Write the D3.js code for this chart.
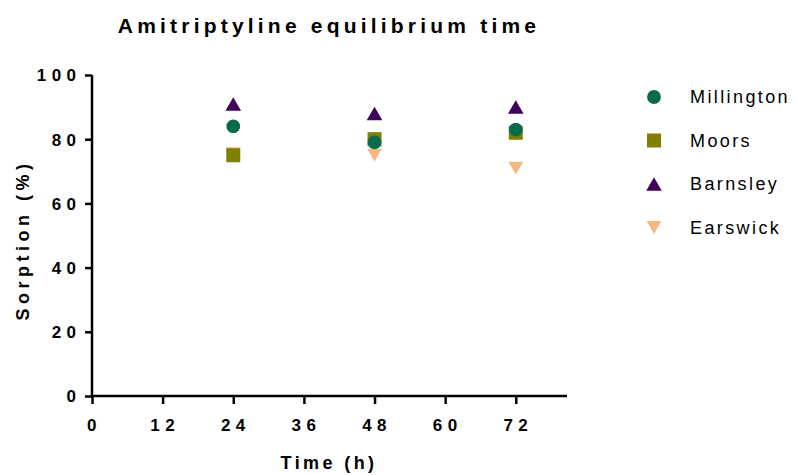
<!DOCTYPE html>
<html lang="en">
<head>
<meta charset="utf-8">
<script src="https://d3js.org/d3.v7.min.js"></script>
<style type="text/css">
  body { margin: 0; background: #fff; }
  text { font-family: "Liberation Sans", Arial, sans-serif; fill: #000; }
</style>
</head>
<body>
<script type="text/javascript">

  // chart data
  var times = [24, 48, 72];
  var seriesNames = ["Millington", "Moors", "Barnsley", "Earswick"];
  var millington = [84, 79, 83];
  var moors = [75, 80, 82];
  var barnsley = [91, 88, 90];
  var earswick = [75.5, 75, 71];
  var xTicks = [0, 12, 24, 36, 48, 60, 72];
  var yTicks = [0, 20, 40, 60, 80, 100];

  var seriesValues = [millington, moors, barnsley, earswick];
  var colors = ["#0a6b4c", "#808000", "#3f015d", "#f4b980"];
  var shapes = [d3.symbolCircle, d3.symbolSquare, d3.symbolTriangle, d3.symbolTriangle];
  var sizes = [150, 196, 105, 95];
  var rotations = [0, 0, 0, 180];

  var width = 795, height = 475;

  var x = d3.scaleLinear().domain([0, 80.7]).range([92, 567]);
  var y = d3.scaleLinear().domain([0, 100]).range([396, 75]);

  // offset so triangles sit centred on their bounding box, not their centroid
  function symOffset(i) {
    if (shapes[i] !== d3.symbolTriangle) return 0;
    var t = Math.sqrt(sizes[i] / (Math.sqrt(3) * 3));
    return rotations[i] ? -t / 2 : t / 2;
  }

  var svg = d3.select("body").append("svg")
    .attr("width", width)
    .attr("height", height);

  // title
  svg.append("text")
    .attr("x", 329).attr("y", 33)
    .attr("text-anchor", "middle")
    .style("font-size", "21px")
    .style("font-weight", "bold")
    .style("letter-spacing", "4.2px")
    .text("Amitriptyline equilibrium time");

  // axes
  var tickSpace = 5.4;
  var xAxis = svg.append("g")
    .attr("transform", "translate(0," + y(0) + ")")
    .call(d3.axisBottom(x).tickValues(xTicks).tickSize(8).tickPadding(15));

  var yAxis = svg.append("g")
    .attr("transform", "translate(" + x(0) + ",0)")
    .call(d3.axisLeft(y).tickValues(yTicks).tickSize(7).tickPadding(9));

  [xAxis, yAxis].forEach(function(g) {
    g.select(".domain").attr("stroke", "#000").attr("stroke-width", 2.5);
    g.selectAll(".tick line").attr("stroke", "#000").attr("stroke-width", 2.5);
    g.selectAll(".tick text")
      .style("font-size", "17px")
      .style("font-weight", "bold")
      .style("letter-spacing", tickSpace + "px")
      .style("font-family", "'Liberation Sans', Arial, sans-serif")
      .attr("fill", "#000");
  });
  xAxis.select(".domain").attr("d", "M" + x(0) + ",0H" + x(80.7));
  yAxis.select(".domain").attr("d", "M0," + y(0) + "V" + y(100));
  yAxis.selectAll(".tick text").attr("dy", "0.35em").attr("dx", tickSpace + "px");
  xAxis.selectAll(".tick text").attr("dx", "2px");

  // axis titles
  svg.append("text")
    .attr("x", 329).attr("y", 469)
    .attr("text-anchor", "middle")
    .style("font-size", "18px")
    .style("font-weight", "bold")
    .style("letter-spacing", "3.4px")
    .text("Time (h)");

  svg.append("text")
    .attr("transform", "translate(29,240) rotate(-90)")
    .attr("text-anchor", "middle")
    .style("font-size", "18px")
    .style("font-weight", "bold")
    .style("letter-spacing", "4.5px")
    .text("Sorption (%)");

  // points: last series drawn first so Millington ends on top
  var order = [3, 2, 1, 0];
  order.forEach(function(s) {
    svg.append("g").selectAll("path")
      .data(seriesValues[s])
      .enter()
      .append("path")
      .attr("d", d3.symbol().type(shapes[s]).size(sizes[s]))
      .attr("transform", function(d, i) {
        return "translate(" + x(times[i]) + "," + (y(d) + symOffset(s)) + ") rotate(" + rotations[s] + ")";
      })
      .attr("fill", colors[s]);
  });

  // legend
  var legend = svg.append("g").selectAll("g")
    .data(seriesNames)
    .enter()
    .append("g")
    .attr("transform", function(d, i) { return "translate(654," + (97 + i * 43.5) + ")"; });

  legend.append("path")
    .attr("d", function(d, i) { return d3.symbol().type(shapes[i]).size(sizes[i])(); })
    .attr("transform", function(d, i) { return "translate(0," + symOffset(i) + ") rotate(" + rotations[i] + ")"; })
    .attr("fill", function(d, i) { return colors[i]; });

  legend.append("text")
    .attr("x", 36)
    .attr("dy", "0.36em")
    .style("font-size", "18px")
    .style("letter-spacing", "2.4px")
    .text(function(d) { return d; });
</script>
</body>
</html>
